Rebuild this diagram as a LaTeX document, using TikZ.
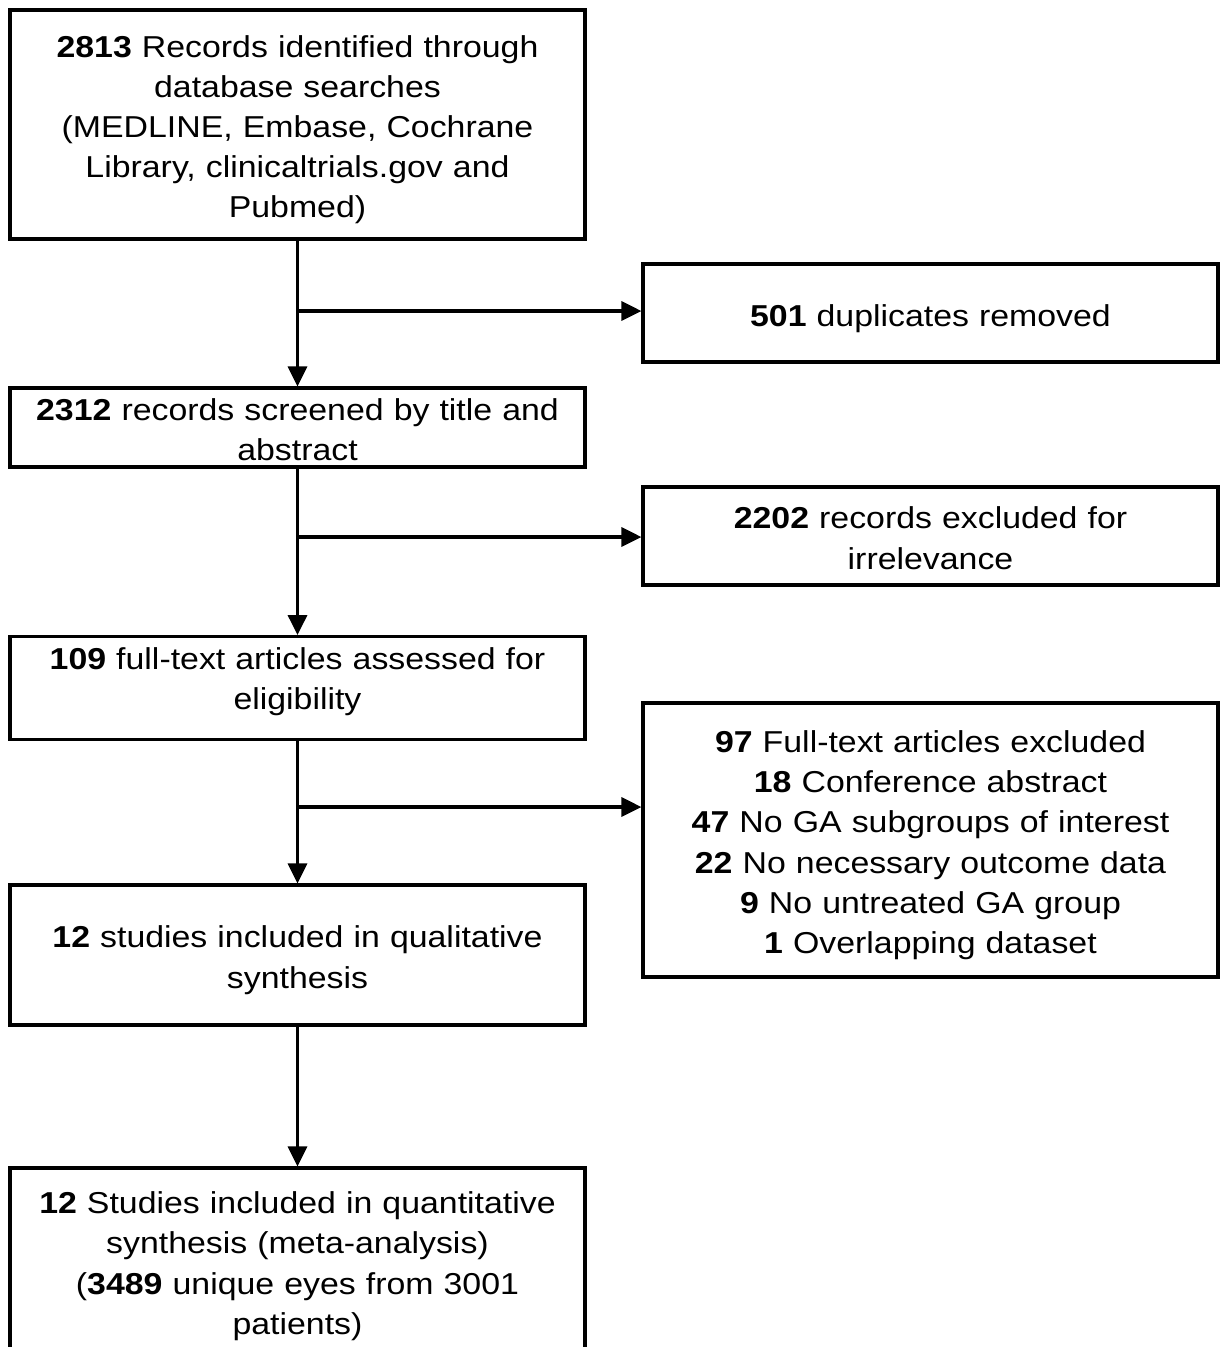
\documentclass[tikz,border=0pt]{standalone}
\usepackage{fontspec}
\setmainfont[FakeStretch=1.12]{Liberation Sans}
\usetikzlibrary{arrows.meta}

\begin{document}
\begin{tikzpicture}[>={Triangle[length=2mm,width=1.9mm]},line width=0.9pt,
  box/.style={draw,align=center,text width=5.6cm,inner sep=0pt,minimum width=5.75cm,font=\fontsize{8.6}{11.4}\selectfont,
    execute at begin node={\rule{0pt}{9.2pt}},execute at end node={\rule[-1.8pt]{0pt}{0pt}}}]
\useasboundingbox (0,0) rectangle (12.22,-13.47);
\node[box,minimum height=2.29cm] (rec) at (2.975,-1.245) {\textbf{2813} Records identified through\\database searches\\(MEDLINE, Embase, Cochrane\\Library, clinicaltrials.gov and\\Pubmed)};
\node[box,minimum height=0.98cm] (dup) at (9.305,-3.13) {\textbf{501} duplicates removed};
\node[box,minimum height=0.79cm] (scr) at (2.975,-4.275) {\textbf{2312} records screened by title and\\abstract};
\node[box,minimum height=0.98cm] (irr) at (9.305,-5.36) {\textbf{2202} records excluded for\\irrelevance};
\node[box,minimum height=1.02cm,execute at end node={\rule[-8.6pt]{0pt}{0pt}}] (full) at (2.975,-6.88) {\textbf{109} full-text articles assessed for\\eligibility};
\node[box,minimum height=2.74cm] (excl) at (9.305,-8.40) {\textbf{97} Full-text articles excluded\\\textbf{18} Conference abstract\\\textbf{47} No GA subgroups of interest\\\textbf{22} No necessary outcome data\\\textbf{9} No untreated GA group\\\textbf{1} Overlapping dataset};
\node[box,minimum height=1.40cm] (qual) at (2.975,-9.55) {\textbf{12} studies included in qualitative\\synthesis};
\node[box,minimum height=1.86cm] (quant) at (2.975,-12.61) {\textbf{12} Studies included in quantitative\\synthesis (meta-analysis)\\(\textbf{3489} unique eyes from 3001\\patients)};
% flow down the left column
\coordinate (b1) at (2.975,-3.11);
\coordinate (b2) at (2.975,-5.37);
\coordinate (b3) at (2.975,-8.07);
\draw[->] (rec.south) -- (scr.north);
\draw[->] (scr.south) -- (full.north);
\draw[->] (full.south) -- (qual.north);
\draw[->] (qual.south) -- (quant.north);
% side branches
\draw[->] (b1) -- (b1 -| dup.west);
\draw[->] (b2) -- (b2 -| irr.west);
\draw[->] (b3) -- (b3 -| excl.west);
\end{tikzpicture}
\end{document}
